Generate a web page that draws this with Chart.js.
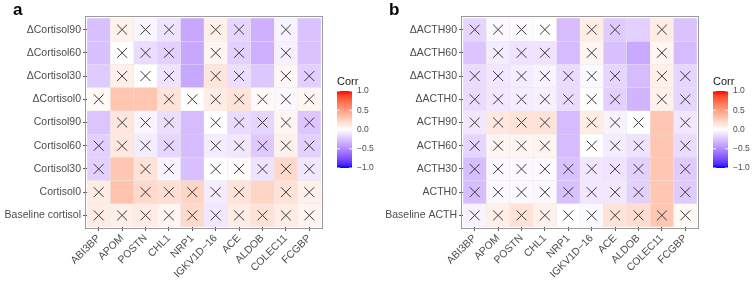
<!DOCTYPE html>
<html>
<head>
<meta charset="utf-8">
<script src="https://cdn.jsdelivr.net/npm/chart.js@4/dist/chart.umd.min.js"></script>
<style>
  body { margin: 0; background: #fff; }
  .panel { position: absolute; top: 0; width: 376px; height: 281px; }
</style>
</head>
<body>
<div class="panel" style="left:0"><canvas id="chartA" width="376" height="281"></canvas></div>
<div class="panel" style="left:376px"><canvas id="chartB" width="376" height="281"></canvas></div>
<script>
// genes on the x axis
const genes = ['ABI3BP', 'APOM', 'POSTN', 'CHL1', 'NRP1', 'IGKV1D\u221216', 'ACE', 'ALDOB', 'COLEC11', 'FCGBP'];

// panel a rows, top to bottom
const rowsA = ['\u0394Cortisol90', '\u0394Cortisol60', '\u0394Cortisol30', '\u0394Cortisol0',
  'Cortisol90', 'Cortisol60', 'Cortisol30', 'Cortisol0', 'Baseline cortisol'];
const corrA = [
  [-0.27, 0.07, -0.04, -0.12, -0.38, 0.08, -0.18, -0.34, -0.05, -0.26],
  [-0.27, 0.00, -0.15, -0.20, -0.38, 0.05, -0.20, -0.34, -0.06, -0.26],
  [-0.22, 0.08, 0.00, -0.12, -0.38, 0.13, -0.14, -0.24, 0.04, -0.20],
  [0.03, 0.30, 0.30, 0.15, 0.00, 0.10, 0.15, 0.03, -0.03, 0.05],
  [-0.25, 0.13, -0.04, -0.14, -0.29, 0.00, -0.15, -0.18, 0.05, -0.24],
  [-0.20, 0.12, -0.08, -0.18, -0.29, -0.08, -0.10, -0.23, 0.07, -0.20],
  [-0.20, 0.30, 0.15, -0.05, -0.27, 0.00, 0.02, -0.12, 0.20, -0.10],
  [0.10, 0.32, 0.20, 0.17, 0.22, -0.08, 0.15, 0.22, 0.15, 0.08],
  [0.10, 0.08, 0.10, 0.05, 0.20, -0.10, 0.10, 0.15, 0.10, 0.05]
];
// 1 = not significant (drawn with a cross)
const crossA = [
  [0, 1, 1, 1, 0, 1, 1, 0, 1, 0],
  [0, 1, 1, 1, 0, 1, 1, 0, 1, 0],
  [0, 1, 1, 1, 0, 1, 1, 0, 1, 1],
  [1, 0, 0, 1, 1, 1, 1, 1, 1, 1],
  [0, 1, 1, 1, 0, 1, 1, 1, 1, 1],
  [1, 1, 1, 1, 0, 1, 1, 1, 1, 1],
  [1, 0, 1, 1, 0, 1, 1, 1, 1, 1],
  [1, 0, 1, 1, 1, 1, 1, 0, 1, 1],
  [1, 1, 1, 1, 1, 1, 1, 1, 1, 1]
];

// panel b rows, top to bottom
const rowsB = ['\u0394ACTH90', '\u0394ACTH60', '\u0394ACTH30', '\u0394ACTH0',
  'ACTH90', 'ACTH60', 'ACTH30', 'ACTH0', 'Baseline ACTH'];
const corrB = [
  [-0.18, -0.03, -0.02, 0.00, -0.29, 0.10, -0.22, -0.20, 0.10, -0.26],
  [-0.25, -0.08, -0.12, -0.12, -0.29, 0.05, -0.27, -0.37, 0.05, -0.29],
  [-0.15, -0.10, -0.08, -0.05, -0.15, -0.03, -0.18, -0.29, 0.08, -0.18],
  [-0.15, -0.10, -0.08, -0.06, -0.15, 0.00, -0.20, -0.32, 0.07, -0.18],
  [-0.10, 0.12, 0.15, 0.15, -0.29, 0.10, -0.05, 0.00, 0.30, -0.10],
  [-0.18, 0.05, 0.05, 0.06, -0.29, 0.00, -0.08, -0.12, 0.30, -0.15],
  [-0.28, -0.03, -0.03, -0.02, -0.27, -0.10, -0.12, -0.20, 0.30, -0.22],
  [-0.28, -0.03, -0.03, -0.03, -0.27, -0.10, -0.10, -0.20, 0.30, -0.22],
  [-0.05, 0.08, 0.15, 0.07, 0.00, -0.03, 0.15, 0.18, 0.30, 0.03]
];
const crossB = [
  [1, 1, 1, 1, 0, 1, 1, 0, 1, 0],
  [0, 1, 1, 1, 0, 1, 0, 0, 1, 0],
  [1, 1, 1, 1, 1, 1, 1, 0, 1, 1],
  [1, 1, 1, 1, 1, 1, 1, 0, 1, 1],
  [1, 1, 1, 1, 0, 1, 1, 1, 0, 1],
  [1, 1, 1, 1, 0, 1, 1, 1, 0, 1],
  [1, 1, 1, 1, 1, 1, 1, 1, 0, 1],
  [1, 1, 1, 1, 1, 1, 1, 1, 0, 1],
  [1, 1, 1, 1, 1, 1, 1, 1, 1, 1]
];

const legendBreaks = [1, 0.5, 0, -0.5, -1];

// --- colour scale: blue - white - red, interpolated in Lab like ggplot
function toLin(c) { c /= 255; return c <= 0.04045 ? c / 12.92 : Math.pow((c + 0.055) / 1.055, 2.4); }
function fromLin(c) { c = Math.min(1, Math.max(0, c)); return 255 * (c <= 0.0031308 ? 12.92 * c : 1.055 * Math.pow(c, 1 / 2.4) - 0.055); }
function rgbToLab(rgb) {
  const R = toLin(rgb[0]), G = toLin(rgb[1]), B = toLin(rgb[2]);
  const X = (0.4124 * R + 0.3576 * G + 0.1805 * B) / 0.95047;
  const Y = 0.2126 * R + 0.7152 * G + 0.0722 * B;
  const Z = (0.0193 * R + 0.1192 * G + 0.9505 * B) / 1.08883;
  const f = t => t > 0.008856 ? Math.cbrt(t) : 7.787 * t + 16 / 116;
  const fx = f(X), fy = f(Y), fz = f(Z);
  return [116 * fy - 16, 500 * (fx - fy), 200 * (fy - fz)];
}
function labToRgb(lab) {
  const fy = (lab[0] + 16) / 116, fx = fy + lab[1] / 500, fz = fy - lab[2] / 200;
  const inv = t => t * t * t > 0.008856 ? t * t * t : (t - 16 / 116) / 7.787;
  const X = inv(fx) * 0.95047, Y = inv(fy), Z = inv(fz) * 1.08883;
  const R = 3.2406 * X - 1.5372 * Y - 0.4986 * Z;
  const G = -0.9689 * X + 1.8758 * Y + 0.0415 * Z;
  const B = 0.0557 * X - 0.2040 * Y + 1.0570 * Z;
  return [R, G, B].map(fromLin).map(Math.round);
}
const labWhite = rgbToLab([255, 255, 255]);
const labBlue = rgbToLab([0, 0, 255]);
const labRed = rgbToLab([255, 0, 0]);
function corrColor(v) {
  const t = Math.min(1, Math.abs(v));
  const end = v < 0 ? labBlue : labRed;
  const lab = labWhite.map((w, i) => w + (end[i] - w) * t);
  const c = labToRgb(lab);
  return `rgb(${c[0]},${c[1]},${c[2]})`;
}

const FONT = '"Liberation Sans", Arial, sans-serif';
const TEXT = '#4d4d4d';

// panel letter, frame and colour bar
const decorPlugin = {
  id: 'decor',
  afterDraw(chart, args, opts) {
    const ctx = chart.ctx;
    const a = chart.chartArea;
    ctx.save();
    // panel frame
    ctx.strokeStyle = '#9a9a9a';
    ctx.lineWidth = 1;
    ctx.strokeRect(a.left - 1.5, a.top - 1.5, a.right - a.left + 3, a.bottom - a.top + 3);

    // panel letter
    ctx.fillStyle = '#000';
    ctx.font = 'bold 17px ' + FONT;
    ctx.textBaseline = 'alphabetic';
    ctx.fillText(opts.letter, 13, 15);

    // colour bar
    const bx = a.right + 16, bw = 15, top = 91, bottom = 168;
    ctx.font = '11px ' + FONT;
    ctx.fillStyle = '#1a1a1a';
    ctx.fillText('Corr', bx, 85);
    const grad = ctx.createLinearGradient(0, top, 0, bottom);
    for (let i = 0; i <= 20; i++) {
      grad.addColorStop(i / 20, corrColor(1 - i / 10));
    }
    ctx.fillStyle = grad;
    ctx.fillRect(bx, top, bw, bottom - top);
    ctx.font = '8.5px ' + FONT;
    ctx.textBaseline = 'middle';
    legendBreaks.forEach(b => {
      const y = top + (1 - b) / 2 * (bottom - top);
      ctx.strokeStyle = 'rgba(255,255,255,0.9)';
      ctx.beginPath();
      ctx.moveTo(bx, y); ctx.lineTo(bx + 3, y);
      ctx.moveTo(bx + bw - 3, y); ctx.lineTo(bx + bw, y);
      ctx.stroke();
      ctx.fillStyle = TEXT;
      ctx.fillText(b === 0 ? '0.0' : (b < 0 ? '\u2212' : '') + Math.abs(b).toFixed(1), bx + 20, y);
    });
    ctx.restore();
  }
};

function makeHeatmap(canvasId, letter, rows, corr, cross) {
  const n = rows.length;
  const bottomUp = rows.slice().reverse();

  // one stacked bar dataset per row, each tile one unit high
  const datasets = bottomUp.map((name, i) => ({
    type: 'bar',
    label: name,
    data: genes.map(() => 1),
    backgroundColor: corr[n - 1 - i].map(corrColor),
    borderColor: 'rgba(225,225,225,0.6)',
    borderWidth: 0.5,
    borderSkipped: false,
    categoryPercentage: 1,
    barPercentage: 1,
    stack: 'tiles',
    order: 1
  }));

  const pts = [];
  rows.forEach((name, r) => {
    cross[r].forEach((c, g) => {
      if (c) pts.push({ x: genes[g], y: n - 1 - r + 0.5 });
    });
  });
  datasets.push({
    type: 'scatter',
    label: 'ns',
    data: pts,
    pointStyle: 'crossRot',
    pointRadius: 7,
    borderColor: '#3a3a3a',
    borderWidth: 1,
    stack: 'marks',
    order: 0
  });

  return new Chart(document.getElementById(canvasId), {
    type: 'bar',
    data: { labels: genes, datasets: datasets },
    plugins: [decorPlugin],
    options: {
      responsive: false,
      animation: false,
      layout: { padding: { top: 18, right: 55, left: 0, bottom: 0 } },
      plugins: {
        legend: { display: false },
        tooltip: { enabled: false },
        decor: { letter: letter }
      },
      scales: {
        x: {
          stacked: true,
          offset: true,
          border: { display: false },
          grid: { display: true, drawOnChartArea: false, offset: false, tickLength: 4, color: '#555' },
          ticks: { color: TEXT, font: { family: FONT, size: 10.5 }, minRotation: 45, maxRotation: 45, autoSkip: false, padding: 1 },
          afterFit(scale) { scale.height = 54; }
        },
        y: {
          stacked: true,
          min: 0,
          max: n,
          border: { display: false },
          grid: { display: true, drawOnChartArea: false, tickLength: 4, color: '#555' },
          ticks: {
            color: TEXT,
            font: { family: FONT, size: 10.5 },
            padding: 2,
            callback: (v, i) => bottomUp[i]
          },
          afterBuildTicks(scale) {
            scale.ticks = bottomUp.map((_, i) => ({ value: i + 0.5 }));
          },
          afterFit(scale) { scale.width = 87; }
        }
      }
    }
  });
}

makeHeatmap('chartA', 'a', rowsA, corrA, crossA);
makeHeatmap('chartB', 'b', rowsB, corrB, crossB);
</script>
</body>
</html>
